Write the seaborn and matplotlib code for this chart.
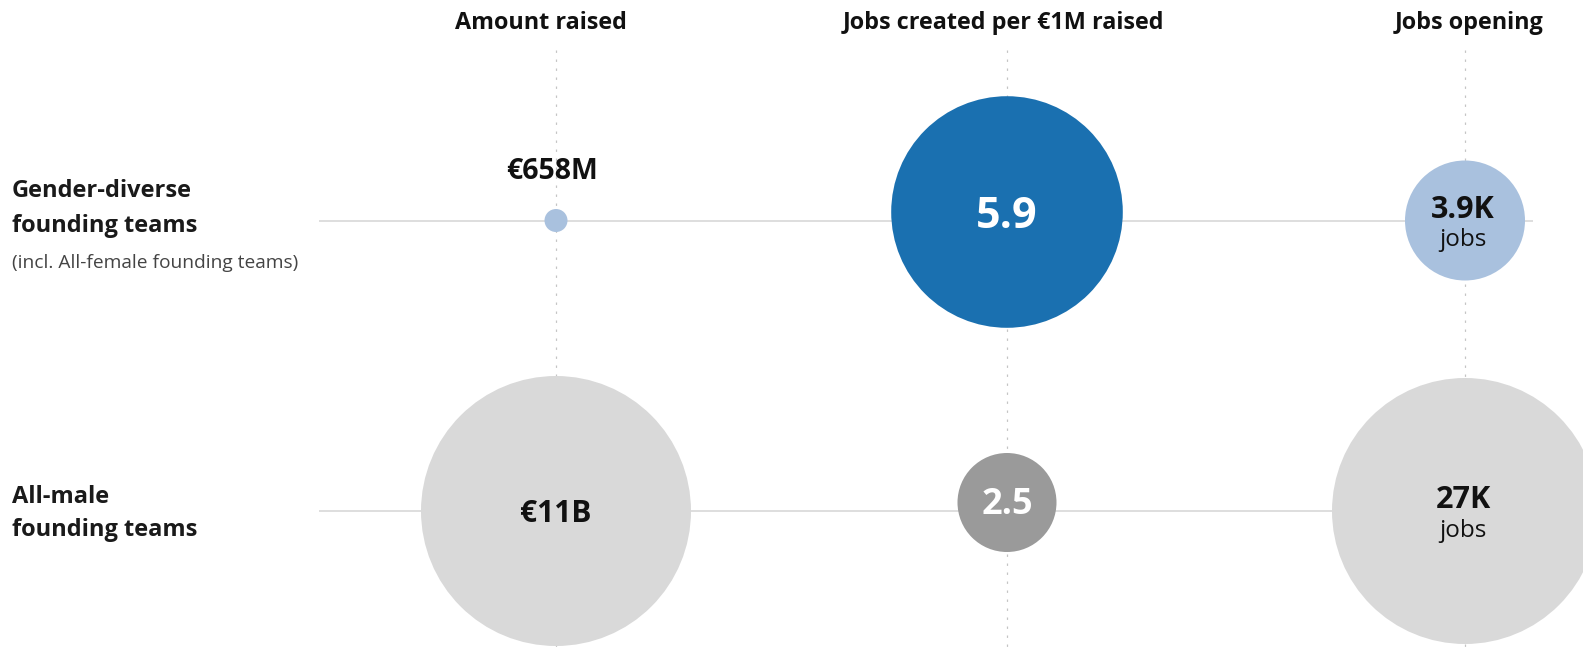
import matplotlib
matplotlib.use("Agg")
import matplotlib.pyplot as plt
import numpy as np
import pandas as pd
import seaborn as sns

# ---- data -------------------------------------------------------------
teams = ["Gender-diverse founding teams", "All-male founding teams"]
metrics = ["Amount raised", "Jobs created per €1M raised", "Jobs opening"]
amount_raised_m = [658, 11000]      # € millions
jobs_per_1m = [5.9, 2.5]            # jobs per €1M raised
jobs_opening = [3900, 27000]        # jobs
row_titles = [["Gender-diverse", "founding teams"], ["All-male", "founding teams"]]
row_note = "(incl. All-female founding teams)"


def fmt_amount(v):
    return f"€{v / 1000:g}B" if v >= 1000 else f"€{v:g}M"


def fmt_jobs(v):
    return f"{v / 1000:g}K"


def fmt_rate(v):
    return f"{v:.1f}"


# ---- style ------------------------------------------------------------
sns.set_theme(style="white")
plt.rcParams["font.family"] = ["Open Sans", "DejaVu Sans"]

W, H = 1583, 651
PT = 72 / 100  # points per pixel
fig = plt.figure(figsize=(W / 100, H / 100), dpi=100)
ax = fig.add_axes([0, 0, 1, 1])

col_x = [556, 1007, 1465]
row_y = [220.5, 511]
col_dy = [0, -8.5, 0]
radius_range = [(11.5, 135), (49.5, 115.8), (60, 133)]
palettes = [
    ["#a9c1de", "#d9d9d9"],
    ["#1a70b0", "#9a9a9a"],
    ["#a9c1de", "#d9d9d9"],
]
series = [amount_raised_m, jobs_per_1m, jobs_opening]

LINE = "#dedede"
DOT = "#c4c4c4"
INK = "#111111"
BOLD = "bold"

# row guide lines and dotted column guides
for y in row_y:
    ax.plot([319, 1533], [y, y], color=LINE, lw=2 * PT, zorder=1,
            solid_capstyle="butt")
for x in col_x:
    ax.plot([x, x], [50, 648], color=DOT, lw=1.2 * PT, ls=(0, (2, 5.5)),
            zorder=1)


def area(r):
    return (2 * r * PT) ** 2


for i, vals in enumerate(series):
    df = pd.DataFrame({
        "team": teams,
        "value": vals,
        "x": [col_x[i]] * 2,
        "y": [y + col_dy[i] for y in row_y],
    })
    r0, r1 = radius_range[i]
    sns.scatterplot(
        data=df, x="x", y="y", hue="team",
        palette=dict(zip(teams, palettes[i])),
        size="value", sizes=(area(r0), area(r1)),
        size_norm=(min(vals), max(vals)),
        linewidth=0, legend=False, ax=ax, zorder=3,
    )

# value labels
ax.text(552, 179, fmt_amount(amount_raised_m[0]), ha="center", va="baseline",
        fontsize=20.5, fontweight=BOLD, color=INK, zorder=4)
ax.text(556, 522.5, fmt_amount(amount_raised_m[1]), ha="center", va="baseline",
        fontsize=21.5, fontweight=BOLD, color=INK, zorder=4)
ax.text(1007, 228, fmt_rate(jobs_per_1m[0]), ha="center", va="baseline",
        fontsize=31, fontweight=BOLD, color="white", zorder=4)
ax.text(1007, 514, fmt_rate(jobs_per_1m[1]), ha="center", va="baseline",
        fontsize=26, fontweight=BOLD, color="white", zorder=4)
for y_val, y_unit, v in [(218, 246, jobs_opening[0]), (508, 537, jobs_opening[1])]:
    ax.text(1463, y_val, fmt_jobs(v), ha="center", va="baseline",
            fontsize=22, fontweight=BOLD, color=INK, zorder=4)
    ax.text(1463, y_unit, "jobs", ha="center", va="baseline",
            fontsize=17.5, color=INK, zorder=4)

# column headers
ax.text(541, 29, metrics[0], ha="center", va="baseline", fontsize=16.8,
        fontweight=BOLD, color=INK)
ax.text(1003, 29, metrics[1], ha="center", va="baseline", fontsize=16.8,
        fontweight=BOLD, color=INK)
ax.text(1543, 29, metrics[2], ha="right", va="baseline", fontsize=16.8,
        fontweight=BOLD, color=INK)

# row headers
for lines, (b1, b2) in zip(row_titles, [(197, 232), (503, 536)]):
    ax.text(12, b1, lines[0], ha="left", va="baseline", fontsize=17,
            fontweight=BOLD, color="#1a1a1a")
    ax.text(12, b2, lines[1], ha="left", va="baseline", fontsize=17,
            fontweight=BOLD, color="#1a1a1a")
ax.text(12, 268, row_note, ha="left", va="baseline", fontsize=13.8,
        color="#444444")

ax.set_xlim(0, W)
ax.set_ylim(H, 0)
ax.axis("off")
fig.savefig("out.png", dpi=100)
